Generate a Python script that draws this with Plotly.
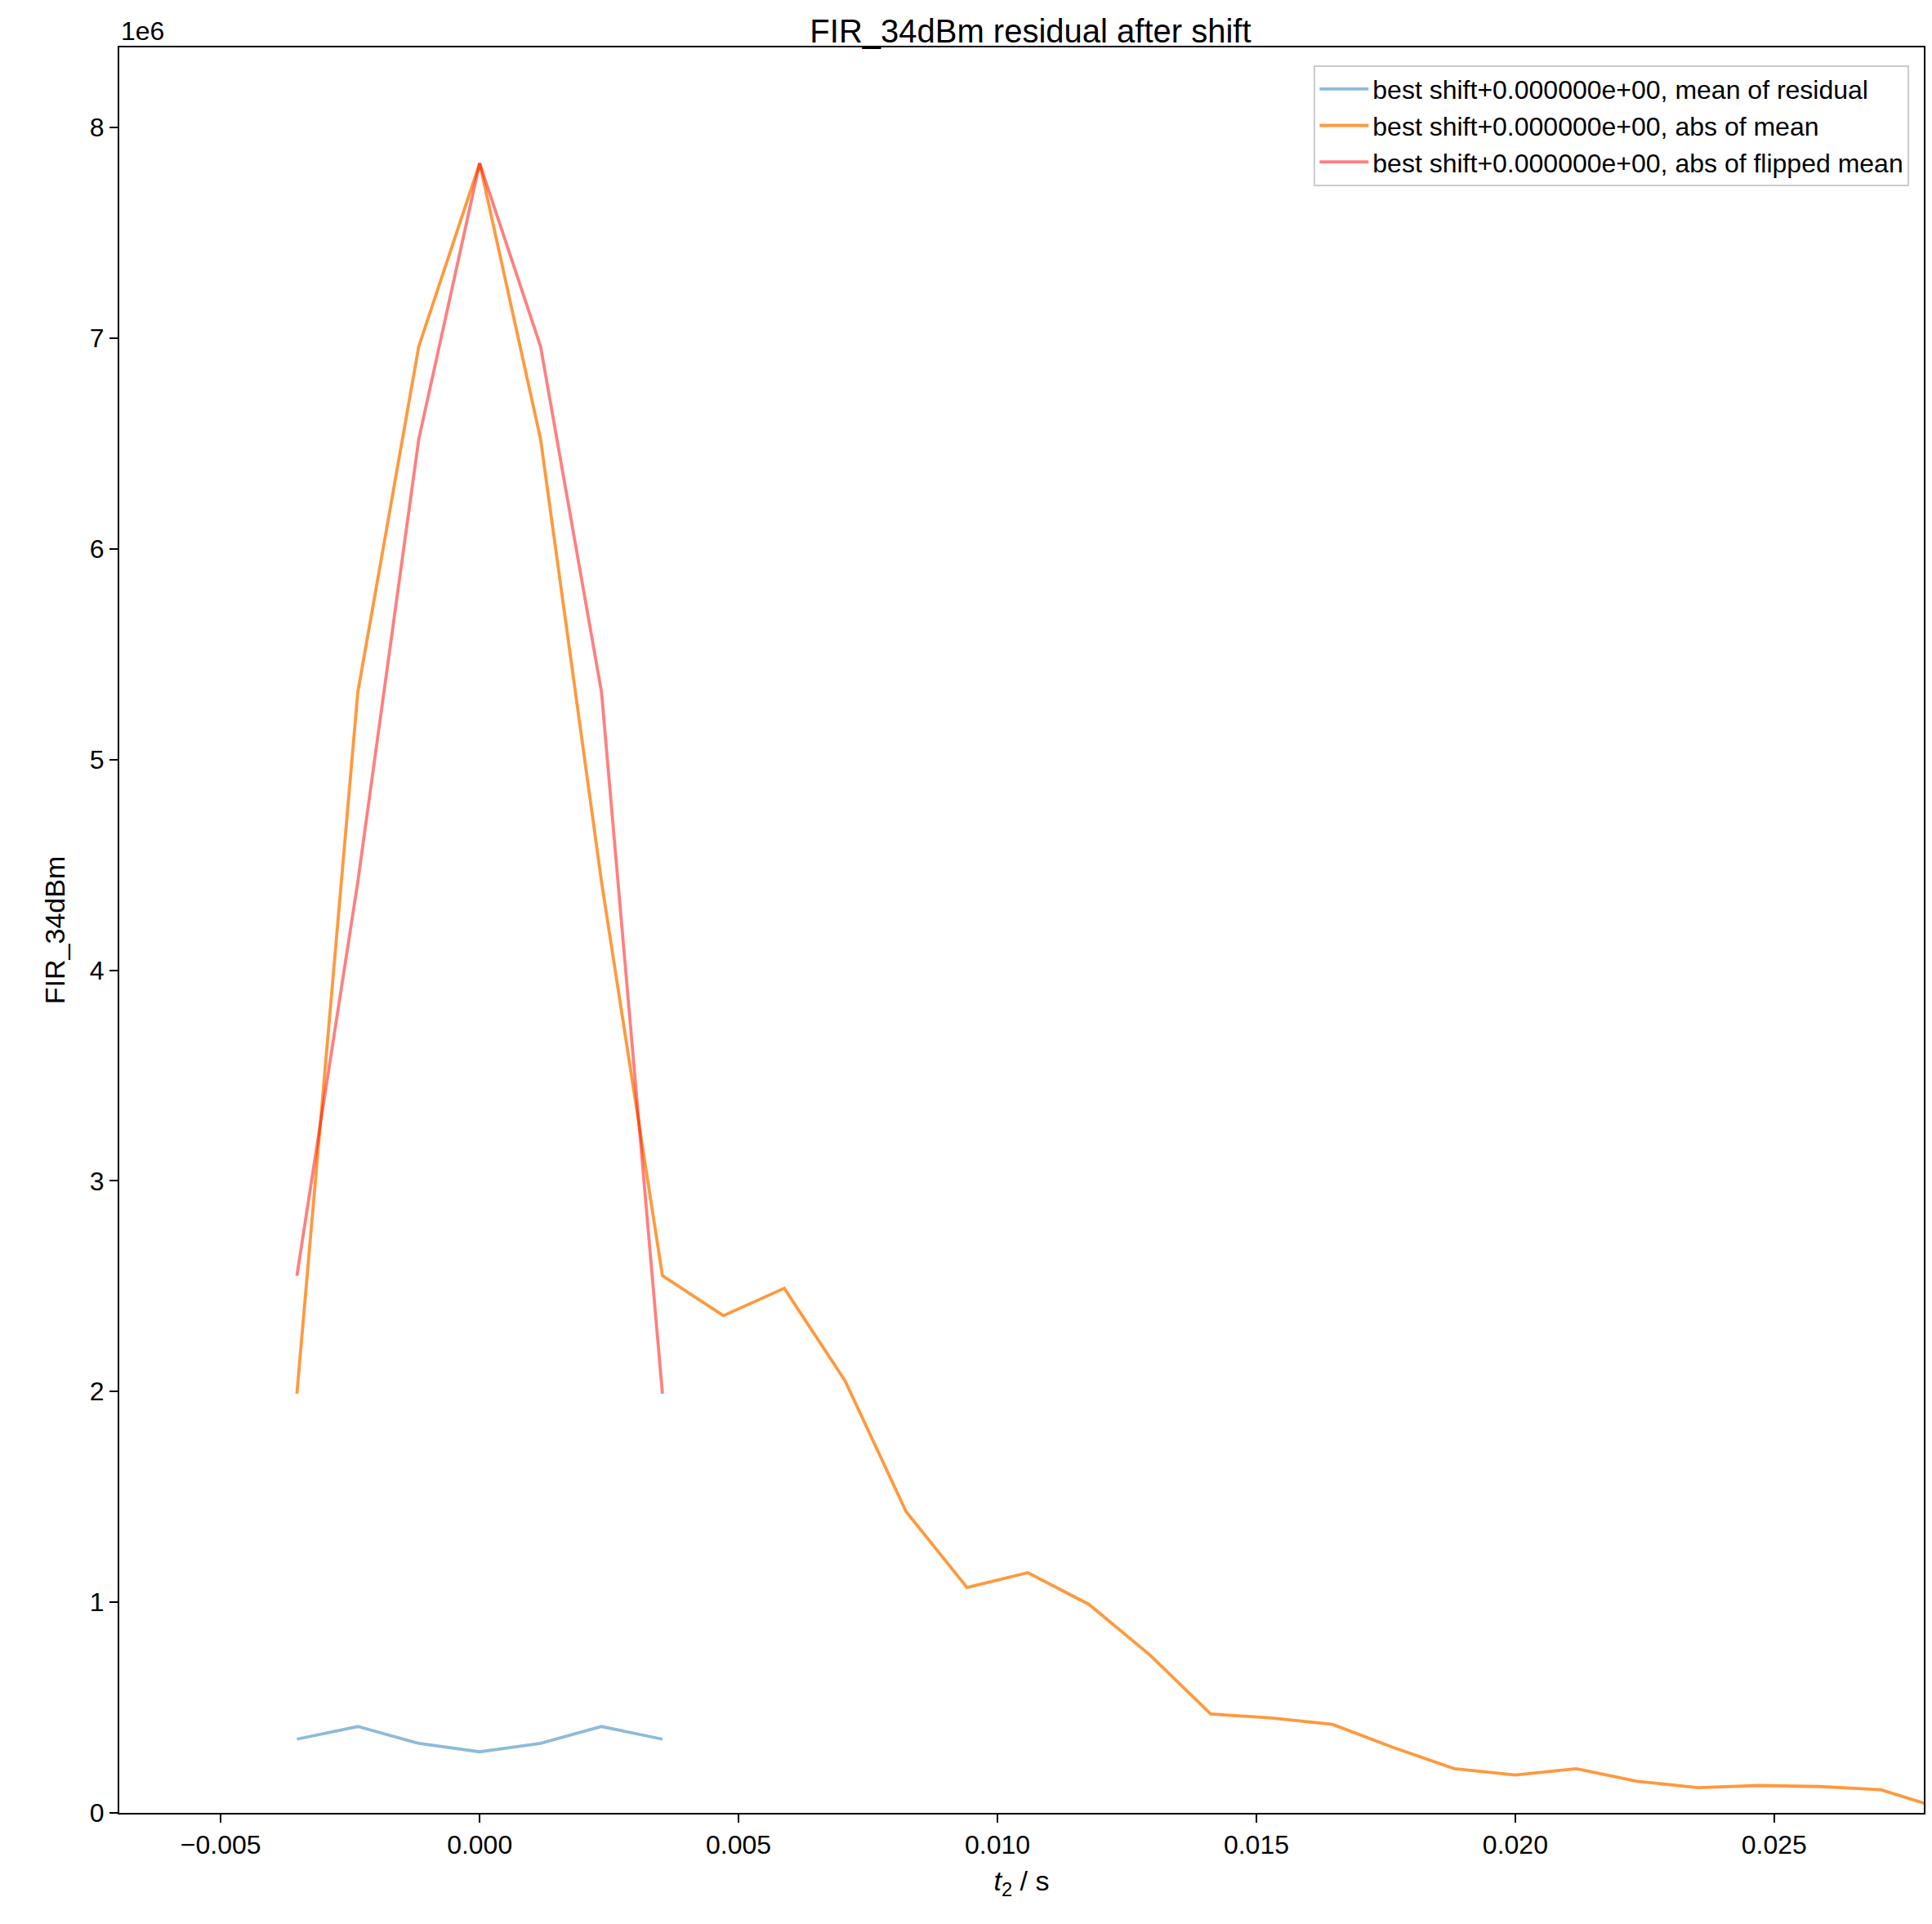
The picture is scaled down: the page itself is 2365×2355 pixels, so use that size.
import plotly.graph_objects as go

dt = 0.0011765
k_all = list(range(-3, 25))
t_all = [k * dt for k in k_all]
t_short = [k * dt for k in range(-3, 4)]

abs_mean = [1.99, 5.32, 6.96, 7.83, 6.52, 4.42, 2.55, 2.36, 2.49, 2.05, 1.43, 1.07, 1.14, 0.99,
            0.75, 0.47, 0.45, 0.42, 0.31, 0.21, 0.18, 0.21, 0.15, 0.12, 0.13, 0.125, 0.11, 0.02]
abs_mean = [v * 1e6 for v in abs_mean]
flipped = [2.55, 4.42, 6.52, 7.83, 6.96, 5.32, 1.99]
flipped = [v * 1e6 for v in flipped]
resid = [0.35, 0.41, 0.33, 0.29, 0.33, 0.41, 0.35]
resid = [v * 1e6 for v in resid]

lw = 3.8
fig = go.Figure()
fig.add_trace(go.Scatter(x=t_short, y=resid, mode="lines", line=dict(color="rgba(31,119,180,0.5)", width=lw),
                         name="best shift+0.000000e+00, mean of residual"))
fig.add_trace(go.Scatter(x=t_all, y=abs_mean, mode="lines", line=dict(color="rgba(255,127,14,0.8)", width=lw),
                         name="best shift+0.000000e+00, abs of mean"))
fig.add_trace(go.Scatter(x=t_short, y=flipped, mode="lines", line=dict(color="rgba(255,0,0,0.5)", width=lw),
                         name="best shift+0.000000e+00, abs of flipped mean"))

axis_common = dict(showgrid=False, zeroline=False, showline=True, linecolor="black", linewidth=2,
                   mirror=True, ticks="outside", ticklen=10, tickwidth=2, tickcolor="black",
                   tickfont=dict(size=32, color="black"))
fig.update_layout(
    width=2365, height=2355, plot_bgcolor="white", paper_bgcolor="white",
    font=dict(family="Liberation Sans, Arial", color="black"),
    margin=dict(l=138, r=18, t=50, b=144),
    title=dict(text="FIR_34dBm residual after shift", x=0.53, xanchor="center", y=0.993, yanchor="top",
               font=dict(size=40)),
    xaxis=dict(range=[-0.00696, 0.02789], tickvals=[-0.005, 0, 0.005, 0.01, 0.015, 0.02, 0.025],
               ticktext=["−0.005", "0.000", "0.005", "0.010", "0.015", "0.020", "0.025"],
               title=dict(text="<i>t</i><sub>2</sub> / s", font=dict(size=34)), **axis_common),
    yaxis=dict(range=[0, 8.38e6], tickvals=[i * 1e6 for i in range(9)], ticktext=[str(i) for i in range(9)],
               title=dict(text="FIR_34dBm", font=dict(size=34), standoff=20), **axis_common),
    legend=dict(x=0.992, y=0.99, xanchor="right", yanchor="top", bordercolor="#cccccc", borderwidth=2,
                bgcolor="rgba(255,255,255,0.8)", font=dict(size=32), itemwidth=60),
    annotations=[dict(text="1e6", xref="paper", yref="paper", x=0, y=1.0, xanchor="left", yanchor="bottom",
                      showarrow=False, font=dict(size=32))],
)
fig.write_html("out.html")
